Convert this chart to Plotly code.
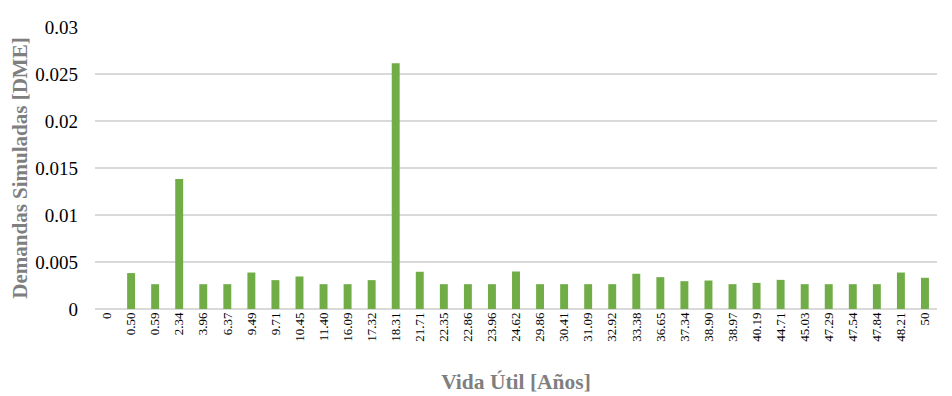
import plotly.graph_objects as go

categories = ["0", "0.50", "0.59", "2.34", "3.96", "6.37", "9.49", "9.71", "10.45", "11.40",
              "16.09", "17.32", "18.31", "21.71", "22.35", "22.86", "23.96", "24.62", "29.86",
              "30.41", "31.09", "32.92", "33.38", "36.65", "37.34", "38.90", "38.97", "40.19",
              "44.71", "45.03", "47.29", "47.54", "47.84", "48.21", "50"]
values = [0, 0.00382, 0.00264, 0.01383, 0.00264, 0.00264, 0.00388, 0.00307, 0.00346, 0.00264,
          0.00264, 0.00307, 0.02615, 0.00396, 0.00264, 0.00264, 0.00264, 0.00399, 0.00264,
          0.00264, 0.00264, 0.00264, 0.00375, 0.00339, 0.00296, 0.00303, 0.00264, 0.00278,
          0.00310, 0.00264, 0.00264, 0.00264, 0.00264, 0.00388, 0.00332]
y_ticks = [0, 0.005, 0.01, 0.015, 0.02, 0.025, 0.03]
y_ticktext = ["0", "0.005", "0.01", "0.015", "0.02", "0.025", "0.03"]

fig = go.Figure(go.Bar(x=categories, y=values, marker_color="#70AD47", marker_line_width=0))

serif = "Liberation Serif, Times New Roman, serif"
fig.update_layout(
    width=944, height=388,
    margin=dict(l=87, r=15, t=19, b=87),
    plot_bgcolor="white", paper_bgcolor="white",
    bargap=0.67,
    showlegend=False,
    font=dict(family=serif, color="black"),
)
fig.update_xaxes(
    type="category", tickangle=-90, tickfont=dict(size=13, family=serif, color="black"),
    showgrid=False, showline=False, ticks="", automargin=False,
    title=dict(text="<b>Vida Útil [Años]</b>", font=dict(size=21.5, family=serif, color="#7f7f7f"), standoff=33),
)
fig.update_yaxes(
    range=[0, 0.03], tickvals=y_ticks, ticktext=y_ticktext,
    tickfont=dict(size=19, family=serif, color="black"),
    showgrid=True, gridcolor="#d9d9d9", gridwidth=1.5,
    zeroline=True, zerolinecolor="#d9d9d9", zerolinewidth=1.5,
    showline=False, ticks="", ticklabelstandoff=16, automargin=False,
    title=dict(text="<b>Demandas Simuladas [DME]</b>", font=dict(size=21, family=serif, color="#7f7f7f"), standoff=12),
)

fig.write_html("out.html")
